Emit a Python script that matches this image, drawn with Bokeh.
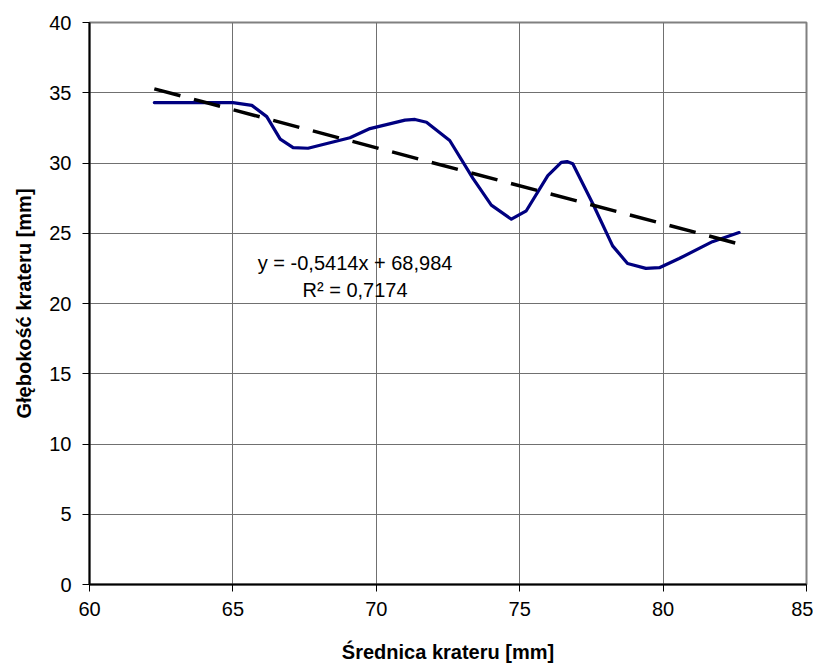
from bokeh.plotting import figure
from bokeh.models import Range1d, FixedTicker, Label
from bokeh.embed import file_html
from bokeh.resources import INLINE

srednica = [62.26, 65.0, 65.66, 66.18, 66.65, 67.1, 67.62, 69.08, 69.78, 71.0,
            71.35, 71.75, 72.56, 73.37, 74.01, 74.71, 75.23, 75.98, 76.45,
            76.65, 76.85, 77.55, 78.24, 78.76, 79.4, 79.87, 80.56, 81.72, 82.65]
glebokosc = [34.3, 34.3, 34.1, 33.3, 31.7, 31.1, 31.05, 31.8, 32.45, 33.05,
             33.1, 32.9, 31.6, 28.9, 27.0, 26.0, 26.6, 29.1, 30.05,
             30.1, 29.95, 27.1, 24.1, 22.85, 22.5, 22.55, 23.2, 24.4, 25.05]

# Linear trend line
slope = -0.5414
intercept = 68.984
trend_x = [62.26, 82.65]
trend_y = [slope * v + intercept for v in trend_x]

x_ticks = [60, 65, 70, 75, 80, 85]
y_ticks = [0, 5, 10, 15, 20, 25, 30, 35, 40]

eq_text = "y = -0,5414x + 68,984"
r2_text = "R\u00b2 = 0,7174"

FONT = "Liberation Sans"

p = figure(width=813, height=666, output_backend="svg", toolbar_location=None,
           x_range=Range1d(60, 85), y_range=Range1d(0, 40),
           min_border_left=89, min_border_right=7, min_border_top=22,
           min_border_bottom=82)

p.background_fill_color = "white"
p.border_fill_color = "white"
p.outline_line_color = "#808080"
p.outline_line_width = 2

for ax in (p.xaxis[0], p.yaxis[0]):
    ax.axis_line_color = "black"
    ax.axis_line_width = 2
    ax.major_tick_line_color = "black"
    ax.major_tick_line_width = 1
    ax.major_tick_out = 7
    ax.major_tick_in = 0
    ax.minor_tick_line_color = None
    ax.major_label_text_font = FONT
    ax.major_label_text_font_size = "20px"
    ax.major_label_text_color = "black"
    ax.axis_label_text_font = FONT
    ax.axis_label_text_font_style = "bold"
    ax.axis_label_text_font_size = "20px"
    ax.axis_label_text_color = "black"

p.xaxis.ticker = FixedTicker(ticks=x_ticks)
p.yaxis.ticker = FixedTicker(ticks=y_ticks)
p.xaxis.major_label_standoff = 10
p.yaxis.major_label_standoff = 11
p.xaxis.axis_label = "Średnica krateru [mm]"
p.yaxis.axis_label = "Głębokość krateru [mm]"
p.xaxis.axis_label_standoff = 22
p.yaxis.axis_label_standoff = 11

p.xgrid.ticker = FixedTicker(ticks=x_ticks)
p.ygrid.ticker = FixedTicker(ticks=y_ticks)
p.grid.grid_line_color = "#707070"
p.grid.grid_line_width = 1

p.line(srednica, glebokosc, line_color="#000080", line_width=3.2,
       line_join="round", line_cap="round")
p.line(trend_x, trend_y, line_color="black", line_width=3.5, line_dash="27 14")

p.add_layout(Label(x=69.26, y=22.85, text=eq_text, text_align="center",
                   text_baseline="middle", text_font=FONT, text_font_size="20px",
                   text_color="black"))
p.add_layout(Label(x=69.26, y=20.93, text=r2_text, text_align="center",
                   text_baseline="middle", text_font=FONT, text_font_size="20px",
                   text_color="black"))

open("out.html", "w").write(file_html(p, INLINE))
